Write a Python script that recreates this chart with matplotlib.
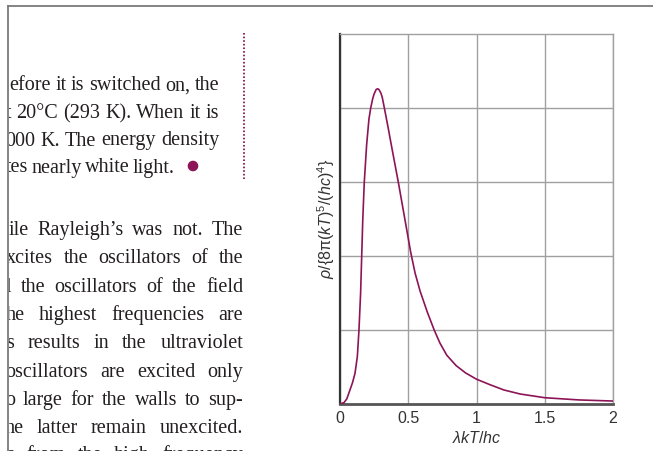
import matplotlib
matplotlib.use("Agg")
import matplotlib.pyplot as plt
from matplotlib.lines import Line2D
from matplotlib.patches import Circle

# ---------------- data ----------------
x_vals = [0, 0.03, 0.05, 0.073, 0.092, 0.11, 0.127, 0.139, 0.151, 0.159, 0.167,
          0.178, 0.195, 0.212, 0.225, 0.24, 0.25, 0.265, 0.276, 0.285, 0.30, 0.31,
          0.325, 0.35, 0.38, 0.427, 0.475, 0.518, 0.55, 0.586, 0.64, 0.69, 0.733,
          0.782, 0.85, 0.92, 1.0, 1.1, 1.2, 1.32, 1.5, 1.75, 2.0]
y_vals = [0, 0.02, 0.07, 0.19, 0.29, 0.415, 0.64, 1.0, 1.5, 2.0, 2.5,
          3.0, 3.5, 3.85, 4.0, 4.13, 4.19, 4.25, 4.26, 4.25, 4.2, 4.14,
          4.0, 3.76, 3.46, 3.0, 2.5, 2.05, 1.77, 1.53, 1.24, 1.0, 0.82,
          0.66, 0.52, 0.42, 0.335, 0.26, 0.19, 0.135, 0.085, 0.055, 0.04]
x_ticks = [0, 0.5, 1, 1.5, 2]
x_tick_labels = ["0", "0.5", "1", "1.5", "2"]
y_grid = [1, 2, 3, 4]

para1 = ["efore it is switched on, the",
         "t 20°C (293 K). When it is",
         "000 K. The energy density",
         "tes nearly white light."]
para2 = ["ile Rayleigh’s was not. The",
         "xcites the oscillators of the",
         "l the oscillators of the field",
         "he highest frequencies are",
         "s results in the ultraviolet",
         "oscillators are excited only",
         "o large for the walls to sup-",
         "he latter remain unexcited.",
         "s from the high frequency"]

W, H = 653, 451
PURPLE = "#8c1457"

fig = plt.figure(figsize=(W / 100, H / 100), dpi=100)
fig.patch.set_facecolor("white")

plt.rcParams["mathtext.fontset"] = "custom"
plt.rcParams["mathtext.rm"] = "Liberation Sans"
plt.rcParams["mathtext.it"] = "Liberation Sans:italic"
plt.rcParams["mathtext.sf"] = "Liberation Sans"

# ---------------- chart ----------------
L, R, T, B = 340, 613, 34, 404
ax = fig.add_axes([L / W, (H - B) / H, (R - L) / W, (B - T) / H])
ax.plot(x_vals, y_vals, color=PURPLE, lw=1.2, solid_capstyle="round",
        solid_joinstyle="round", zorder=3)
ax.set_xlim(0, 2)
ax.set_ylim(0, 5)
ax.set_xticks(x_ticks)
ax.set_xticklabels(x_tick_labels, family="Liberation Sans", fontsize=11.5, color="#333333")
ax.set_yticks(y_grid)
ax.set_yticklabels([])
ax.tick_params(length=0, pad=5)
ax.grid(True, color="#a0a0a0", lw=1.0)
for s in ["top", "right"]:
    ax.spines[s].set_color("#a0a0a0")
    ax.spines[s].set_linewidth(1.0)
ax.spines["left"].set_color("#333333")
ax.spines["left"].set_linewidth(1.6)
ax.spines["bottom"].set_color("#555555")
ax.spines["bottom"].set_linewidth(2.0)
ax.set_axisbelow(True)
ax.set_xlabel(r"$\lambda kT/hc$", fontsize=11.5, color="#333333", labelpad=3)
ax.set_ylabel(r"$\rho/\{8\mathrm{\pi}(kT)^{5}/(hc)^{4}\}$", fontsize=11.5,
              color="#333333", labelpad=-3)

# ---------------- page frame ----------------
fig.add_artist(Line2D([7.7 / W, 1], [1 - 6 / H, 1 - 6 / H], color="#7a7a7a",
                      lw=1.3, transform=fig.transFigure))
fig.add_artist(Line2D([7.7 / W, 7.7 / W], [0, 1 - 6 / H], color="#7a7a7a",
                      lw=1.3, transform=fig.transFigure))

# ---------------- page text ----------------
X0, X1 = 8.6, 250
tax = fig.add_axes([X0 / W, 0, (X1 - X0) / W, 1])
tax.set_xlim(X0, X1)
tax.set_ylim(H, 0)
tax.axis("off")

fig.canvas.draw()
renderer = fig.canvas.get_renderer()
FS = 14.5

def place_line(line, y, x_left, x_right):
    words = line.split(" ")
    texts = [tax.text(0, y, w, family="Liberation Serif", fontsize=FS,
                      color="#231f20", va="baseline", ha="left", clip_on=True)
             for w in words]
    widths = [t.get_window_extent(renderer).width for t in texts]
    sp = tax.text(0, y, "a a", family="Liberation Serif", fontsize=FS)
    sp2 = tax.text(0, y, "aa", family="Liberation Serif", fontsize=FS)
    space = sp.get_window_extent(renderer).width - sp2.get_window_extent(renderer).width
    sp.remove(); sp2.remove()
    n = len(words)
    gap = (x_right - x_left - sum(widths)) / (n - 1)
    if gap < 0.3 * space:
        gap = 0.3 * space
        x_left = x_right - sum(widths) - gap * (n - 1)
    x = x_left
    for t, w in zip(texts, widths):
        t.set_x(x)
        x += w + gap

p1_base = [90.5, 118, 145.5, 172.5]
p1_left = [9.5, 6, 5, 6]
p1_right = [219, 219, 219, 175]
for line, yb, xl, xr in zip(para1, p1_base, p1_left, p1_right):
    place_line(line, yb, xl, xr)

p2_base = [235, 263.3, 291.6, 320, 348.3, 376.6, 405, 433.3, 460]
p2_left = [8.5, 6, 6, 6, 6, 5, 5, 5, 6]
for line, yb, xl in zip(para2, p2_base, p2_left):
    place_line(line, yb, xl, 243)

tax.add_patch(Circle((193, 166), 4.6, color=PURPLE, clip_on=False))
tax.plot([243.5, 243.5], [33, 179], color=PURPLE, lw=1.3,
         linestyle=(0, (0.9, 1.1)), clip_on=False)

fig.savefig("out.png", dpi=100, facecolor="white")
